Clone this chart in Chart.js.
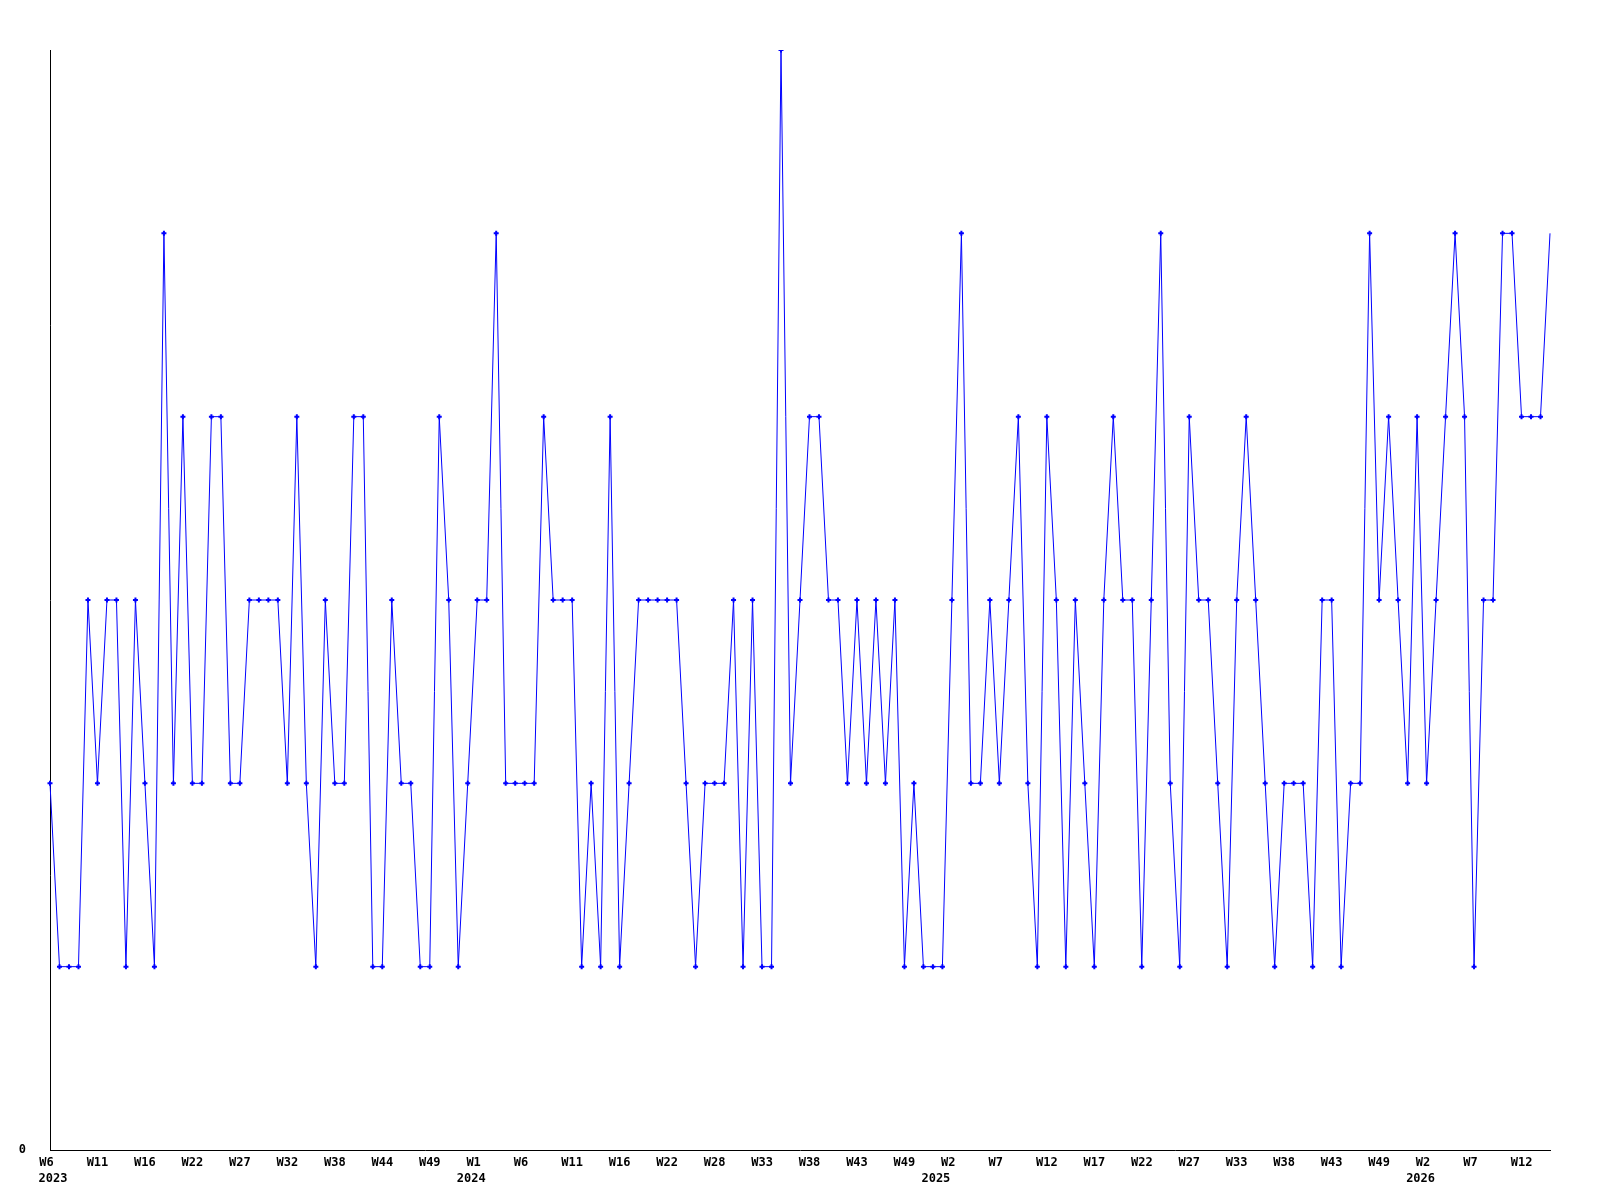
<!DOCTYPE html>
<html>
<head>
<meta charset="utf-8">
<script src="https://cdn.jsdelivr.net/npm/chart.js@4.4.1/dist/chart.umd.min.js"></script>
<style>
  html, body { margin: 0; padding: 0; background: #fff; }
  canvas { display: block; }
</style>
</head>
<body>
<canvas id="weekChart" width="1600" height="1200"></canvas>
<script>
// weekly values, one per plotted week (2023 W6 .. 2026)
var weeklyCounts = [
    2, 1, 1, 1, 3, 2, 3, 3, 1, 3, 2, 1, 5, 2, 4, 2, 2, 4, 4, 2, 2, 3, 3, 3, 3, 2,
    4, 2, 1, 3, 2, 2, 4, 4, 1, 1, 3, 2, 2, 1, 1, 4, 3, 1, 2, 3, 3, 5, 2, 2, 2, 2,
    4, 3, 3, 3, 1, 2, 1, 4, 1, 2, 3, 3, 3, 3, 3, 2, 1, 2, 2, 2, 3, 1, 3, 1, 1, 6, 2,
    3, 4, 4, 3, 3, 2, 3, 2, 3, 2, 3, 1, 2, 1, 1, 1, 3, 5, 2, 2, 3, 2, 3, 4, 2, 1,
    4, 3, 1, 3, 2, 1, 3, 4, 3, 3, 1, 3, 5, 2, 1, 4, 3, 3, 2, 1, 3, 4, 3, 2, 1, 2,
    2, 2, 1, 3, 3, 1, 2, 2, 5, 3, 4, 3, 2, 4, 2, 3, 4, 5, 4, 1, 3, 3, 5, 5, 4, 4, 4, 5
];

// a tick label is shown on every 5th point
var tickWeeks = ['W6', 'W11', 'W16', 'W22', 'W27', 'W32', 'W38', 'W44', 'W49',
    'W1', 'W6', 'W11', 'W16', 'W22', 'W28', 'W33', 'W38', 'W43', 'W49',
    'W2', 'W7', 'W12', 'W17', 'W22', 'W27', 'W33', 'W38', 'W43', 'W49',
    'W2', 'W7', 'W12'];
// year names, under the tick with the same index
var yearNames = ['2023', '2024', '2025', '2026'];
var yearTickIndex = [0, 9, 19, 29];
var tickEvery = 5;

var yMax = 6;

var labels = weeklyCounts.map(function(v, i) { return String(i); });
var axisFont = { family: '"DejaVu Sans Mono", monospace', size: 12, weight: 'bold', lineHeight: 1.3 };

//year row is drawn by hand under the week row, nudged like in the original
var yearRow = {
    id: 'yearRow',
    afterDraw: function(chart, args, opts) {
        var xs = chart.scales.x;
        var ctx = chart.ctx;
        ctx.save();
        ctx.font = 'bold 12px "DejaVu Sans Mono", monospace';
        ctx.fillStyle = '#000';
        ctx.textAlign = 'center';
        ctx.textBaseline = 'middle';
        for (var i = 0; i < yearNames.length; i++) {
            var x = xs.getPixelForValue(yearTickIndex[i] * tickEvery) + opts.nudge[i];
            ctx.fillText(yearNames[i], x, xs.top + 29);
        }
        ctx.restore();
    }
};

new Chart(document.getElementById('weekChart'), {
    type: 'line',
    data: {
        labels: labels,
        datasets: [{
            data: weeklyCounts,
            borderColor: '#0000ff',
            backgroundColor: '#0000ff',
            borderWidth: 1,
            tension: 0,
            pointStyle: 'cross',
            pointBorderWidth: 2,
            pointRadius: function(ctx) {
                return ctx.dataIndex === weeklyCounts.length - 1 ? 0 : 2.5;
            }
        }]
    },
    plugins: [yearRow],
    options: {
        responsive: false,
        animation: false,
        devicePixelRatio: 1,
        layout: { padding: { top: 50, right: 50, left: 0, bottom: 0 } },
        plugins: {
            legend: { display: false },
            tooltip: { enabled: false },
            yearRow: { nudge: [3, -6, -16, -6] }
        },
        scales: {
            x: {
                type: 'category',
                offset: false,
                grid: { display: false, drawTicks: false },
                border: { display: true, color: '#000', width: 1 },
                afterFit: function(scale) { scale.height = 50; },
                ticks: {
                    autoSkip: false,
                    maxRotation: 0,
                    minRotation: 0,
                    padding: 5,
                    color: '#000',
                    font: axisFont,
                    callback: function(value, index) {
                        if (index % tickEvery !== 0) return '';
                        var k = index / tickEvery;
                        if (k >= tickWeeks.length) return '';
                        var w = tickWeeks[k];
                        // short labels sit a little left of their tick in the original
                        return w.length < 3 ? w + ' ' : w;
                    }
                }
            },
            y: {
                min: 0,
                max: yMax,
                grid: { display: false, drawTicks: false },
                border: { display: true, color: '#000', width: 1 },
                afterFit: function(scale) { scale.width = 50; },
                afterBuildTicks: function(scale) { scale.ticks = [{ value: 0 }]; },
                ticks: {
                    padding: 24,
                    color: '#000',
                    font: axisFont,
                    callback: function(value) { return String(value); }
                }
            }
        }
    }
});
</script>
</body>
</html>
